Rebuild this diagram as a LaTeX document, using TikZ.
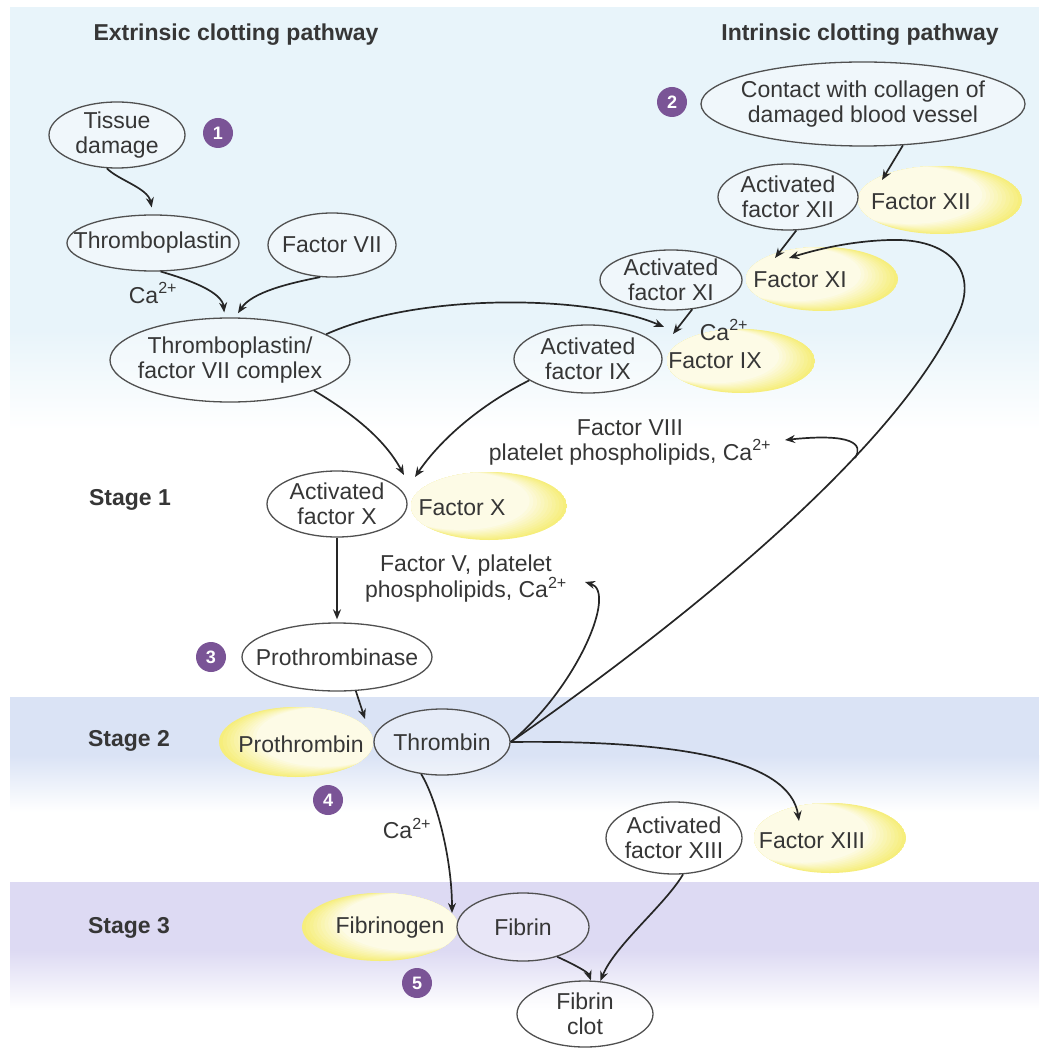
\documentclass[tikz,border=0pt]{standalone}
\usepackage{fontspec}
\setmainfont{Liberation Sans}
\usetikzlibrary{shapes.geometric,arrows.meta}
\definecolor{txt}{HTML}{363636}
\definecolor{edgec}{HTML}{505050}
\definecolor{arrc}{HTML}{262626}
\definecolor{topbg}{HTML}{E8F4FA}
\definecolor{bandA}{HTML}{DAE3F5}
\definecolor{bandB}{HTML}{DDDAF3}
\definecolor{ybright}{HTML}{F6EE7C}
\definecolor{ypale}{HTML}{FDFBE6}
\definecolor{purp}{HTML}{7A5496}

\newcommand{\ycres}[6]{%
  \begin{scope}
    \clip (#1,#2) ellipse [x radius=#3pt, y radius=#4pt];
    \fill[ybright] (#1,#2) ellipse [x radius=#3pt, y radius=#4pt];
    \foreach \k in {1,...,10}{%
      \pgfmathsetmacro{\fr}{\k/10}%
      \pgfmathsetmacro{\pc}{100-100*\fr}%
      \fill[ybright!\pc!ypale] ({#1+\fr*#5},{#2+\fr*#6})
        ellipse [x radius={(1-0.12*\fr)*#3pt}, y radius={(1-0.15*\fr)*#4pt}];
    }
  \end{scope}}

\tikzset{
  every node/.style={text=txt, font=\fontsize{23}{25}\selectfont},
  nd/.style={ellipse, draw=edgec, line width=1.3pt, inner sep=-40pt, align=center,
             fill=white, fill opacity=0.35, text opacity=1},
  lbl/.style={align=center, inner sep=0pt},
  hd/.style={font=\bfseries\fontsize{23}{25}\selectfont, inner sep=0pt},
  num/.style={circle, fill=purp, text=white, font=\bfseries\fontsize{18}{18}\selectfont,
              minimum size=30pt, inner sep=0pt},
  arr/.style={draw=arrc, line width=1.7pt, -{Stealth[length=10pt,width=8pt]}},
}

\begin{document}
\begin{tikzpicture}[x=1pt,y=-1pt]
\useasboundingbox (0,0) rectangle (1039,1048);
\fill[white] (0,0) rectangle (1039,1048);
% backgrounds
\fill[topbg] (10,7) rectangle (1039,330);
\shade[top color=topbg, bottom color=white] (10,330) rectangle (1039,430);
\fill[bandA] (10,697) rectangle (1039,755);
\shade[top color=bandA, bottom color=white] (10,755) rectangle (1039,812);
\fill[bandB] (10,882) rectangle (1039,950);
\shade[top color=bandB, bottom color=white] (10,950) rectangle (1039,1010);

% yellow crescents
\ycres{940}{200}{82}{34}{-30}{-5}
\ycres{822}{279}{76}{32}{-28}{-5}
\ycres{741}{361}{74}{32}{-27}{-5}
\ycres{489}{506}{78}{34}{-28}{-5}
\ycres{830}{838}{76}{35}{-28}{-5}
\ycres{296}{742}{77}{35}{28}{-5}
\ycres{380}{927}{78}{34}{28}{-5}

% headings
\node[hd] (hext) at (236,35) {Extrinsic clotting pathway};
\node[hd] (hint) at (860,35) {Intrinsic clotting pathway};

% ellipse nodes
\node[nd, minimum width=136pt, minimum height=66pt] (tissue) at (117,135) {Tissue\\damage};
\node[nd, minimum width=172pt, minimum height=56pt] (thrombo) at (153,243) {Thromboplastin};
\node[nd, minimum width=128pt, minimum height=64pt] (f7) at (332,245) {Factor VII};
\node[nd, minimum width=240pt, minimum height=84pt] (complex) at (230,360) {Thromboplastin/\\factor VII complex};
\node[nd, minimum width=324pt, minimum height=84pt] (contact) at (863,104) {Contact with collagen of\\damaged blood vessel};
\node[nd, minimum width=140pt, minimum height=66pt] (a12) at (788,197) {Activated\\factor XII};
\node[nd, minimum width=142pt, minimum height=60pt] (a11) at (671,280) {Activated\\factor XI};
\node[nd, minimum width=148pt, minimum height=68pt] (a9) at (588,359) {Activated\\factor IX};
\node[nd, minimum width=140pt, minimum height=66pt] (a10) at (337,504) {Activated\\factor X};
\node[nd, minimum width=190pt, minimum height=68pt] (pase) at (337,657) {Prothrombinase};
\node[nd, minimum width=136pt, minimum height=66pt] (thrombin) at (442,742) {Thrombin};
\node[nd, minimum width=136pt, minimum height=72pt] (a13) at (674,838) {Activated\\factor XIII};
\node[nd, minimum width=132pt, minimum height=68pt] (fibrin) at (523,927) {Fibrin};
\node[nd, minimum width=136pt, minimum height=66pt] (clot) at (585,1014) {Fibrin\\clot};

% plain labels
\node[lbl] (t12) at (921,202) {Factor XII};
\node[lbl] (t11) at (800,280) {Factor XI};
\node[lbl] (t9) at (715,361) {Factor IX};
\node[lbl] (t10) at (462,508) {Factor X};
\node[lbl] (t13) at (812,841) {Factor XIII};
\node[lbl] (tpro) at (301,744) {Prothrombin};
\node[lbl] (tfg) at (390,928) {Fibrinogen};
\node[lbl] (ca1) at (153,293) {Ca\textsuperscript{2+}};
\node[lbl] (ca2) at (724,330) {Ca\textsuperscript{2+}};
\node[lbl] (ca3) at (407,828) {Ca\textsuperscript{2+}};
\node[lbl] (f8) at (630,442) {Factor VIII\\platelet phospholipids, Ca\textsuperscript{2+}};
\node[lbl] (f5) at (466,579) {Factor V, platelet\\phospholipids, Ca\textsuperscript{2+}};
\node[hd] (s1) at (130,500) {Stage 1};
\node[hd] (s2) at (129,741) {Stage 2};
\node[hd] (s3) at (129,928) {Stage 3};

% numbered circles
\node[num] (n1) at (218,133) {1};
\node[num] (n2) at (672,102) {2};
\node[num] (n3) at (211,657) {3};
\node[num] (n4) at (328,800) {4};
\node[num] (n5) at (417,983) {5};

% free ends
\coordinate (f12in) at (882,180);
\coordinate (f11inA) at (775,258);
\coordinate (f11inB) at (789,258);
\coordinate (f9inA) at (664,327);
\coordinate (f9inB) at (673,334);
\coordinate (f10inA) at (404,475);
\coordinate (f10inB) at (415,477);
\coordinate (pthin) at (365,719);
\coordinate (f8in) at (785,440);
\coordinate (f5in) at (585,582);
\coordinate (f13in) at (799,821);
\coordinate (fgin) at (452,913);
\coordinate (hk) at (855,458);

% connectors
\draw[arr, shorten >=7pt] (tissue.-107) .. controls (118,180) and (148,188) .. (thrombo.north);
\draw[arr, shorten >=5pt] (thrombo.-75) .. controls (190,280) and (222,292) .. (complex.97);
\draw[arr, shorten >=5pt] (f7.-110) .. controls (290,283) and (252,292) .. (complex.83);
\draw[arr] (complex.15) .. controls (420,292) and (590,295) .. (f9inA);
\draw[arr] (complex.-20) .. controls (355,415) and (385,440) .. (f10inA);
\draw[arr] (a9.-160) .. controls (480,405) and (440,440) .. (f10inB);
\draw[arr] (contact.-46) -- (f12in);
\draw[arr] (a12.-76) -- (f11inA);
\draw[arr] (a11.-54) -- (f9inB);
\draw[arr, shorten >=3pt] (a10.south) -- (a10.south |- pase.north);
\draw[arr] (pase.-61) -- (pthin);
\draw[arr] (thrombin.east) .. controls (700,610) and (905,440) .. (960,310)
   .. controls (976,271) and (950,238) .. (890,240)
   .. controls (850,241) and (815,250) .. (f11inB);
\draw[arr] (hk) .. controls (864,444) and (852,433) .. (f8in);
\draw[arr] (thrombin.east) .. controls (575,690) and (618,592) .. (f5in);
\draw[arr] (thrombin.east) .. controls (680,740) and (790,760) .. (f13in);
\draw[arr] (thrombin.-123) .. controls (437,800) and (452,860) .. (fgin);
\draw[arr] (fibrin.-41) .. controls (575,965) and (588,972) .. (clot.80);
\draw[arr] (a13.-76) .. controls (665,905) and (615,945) .. (clot.65);
\end{tikzpicture}
\end{document}
